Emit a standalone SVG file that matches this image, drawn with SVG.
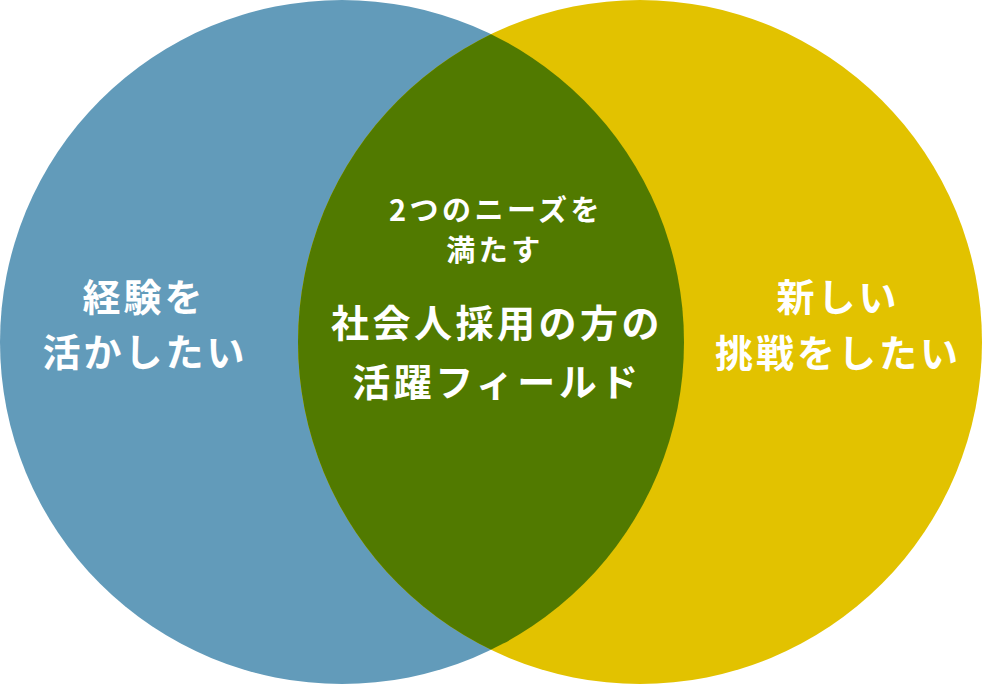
<svg xmlns="http://www.w3.org/2000/svg" width="982" height="684" viewBox="0 0 982 684">
<defs>
<style>
.t{fill:#fff;font-family:"Noto Sans CJK JP","Noto Sans",sans-serif;font-weight:bold;text-anchor:middle}
.big{font-size:38px;letter-spacing:3px}
.mid{font-size:38px;letter-spacing:3.5px}
.sm{font-size:29px;letter-spacing:3.5px}
</style>
<clipPath id="cl"><circle cx="342" cy="342" r="342"/></clipPath>
</defs>
<g id="left">
<circle cx="342" cy="342" r="342" fill="#629bba"/>
</g>
<g id="right">
<circle cx="640" cy="342" r="342" fill="#e2c200"/>
</g>
<g id="overlap">
<circle cx="640" cy="342" r="342" fill="#517a00" clip-path="url(#cl)"/>
</g>
<g id="left-label">
<text class="t big" x="144" y="311">経験を</text>
<text class="t big" x="145" y="366">活かしたい</text>
</g>
<g id="right-label">
<text class="t big" x="838" y="311">新しい</text>
<text class="t big" x="838" y="367">挑戦をしたい</text>
</g>
<g id="center-label">
<text class="t sm" x="496" y="221">2つのニーズを</text>
<text class="t sm" x="495" y="261">満たす</text>
<text class="t mid" x="497" y="337">社会人採用の方の</text>
<text class="t mid" x="497" y="396">活躍フィールド</text>
</g>
</svg>
